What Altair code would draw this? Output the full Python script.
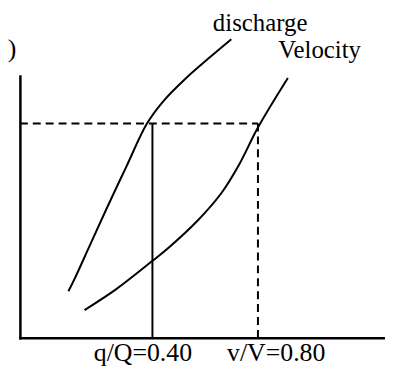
import altair as alt
import pandas as pd

# Curves (relative units: x 0..1 across the x-axis, y 0..1 up the y-axis)
discharge_x = [0.133, 0.149, 0.190, 0.236, 0.291, 0.348, 0.392, 0.454, 0.516, 0.579]
discharge_y = [0.178, 0.223, 0.348, 0.489, 0.652, 0.818, 0.902, 0.990, 1.066, 1.140]
velocity_x = [0.177, 0.264, 0.364, 0.408, 0.489, 0.552, 0.601, 0.652, 0.734]
velocity_y = [0.106, 0.186, 0.295, 0.345, 0.451, 0.553, 0.663, 0.803, 0.992]

# Reading lines
q_line_x = 0.363
v_line_x = 0.652
level_y = 0.818

# Text
bottom_labels = ["q/Q=0.40", "v/V=0.80"]
bottom_label_x = [0.337, 0.702]
curve_names = ["discharge", "Velocity"]
curve_name_x = [0.658, 0.821]
curve_name_y = [1.172, 1.068]
corner_text = [")"]
corner_x = [-0.033]
corner_y = [1.072]

FONT = "Liberation Serif"
xs = alt.Scale(domain=[0, 1], nice=False, zero=False)
ys = alt.Scale(domain=[0, 1], nice=False, zero=False)

curves = pd.DataFrame({
    "x": discharge_x + velocity_x,
    "y": discharge_y + velocity_y,
    "curve": ["discharge"] * len(discharge_x) + ["Velocity"] * len(velocity_x),
})

lines = alt.Chart(curves).mark_line(
    color="black", strokeWidth=2, interpolate="catmull-rom"
).encode(
    x=alt.X("x:Q", scale=xs, title=""),
    y=alt.Y("y:Q", scale=ys, title=""),
    detail="curve:N",
)

solid_df = pd.DataFrame({"x": [q_line_x], "y": [0.0], "y2": [level_y]})
solid = alt.Chart(solid_df).mark_rule(color="black", strokeWidth=2).encode(
    x=alt.X("x:Q", scale=xs, title=""),
    y=alt.Y("y:Q", scale=ys, title=""),
    y2="y2:Q",
)

dv_df = pd.DataFrame({"x": [v_line_x], "y": [0.0], "y2": [level_y]})
dashed_v = alt.Chart(dv_df).mark_rule(color="black", strokeWidth=2, strokeDash=[8, 5]).encode(
    x=alt.X("x:Q", scale=xs, title=""),
    y=alt.Y("y:Q", scale=ys, title=""),
    y2="y2:Q",
)

dh_df = pd.DataFrame({"x": [0.0], "x2": [v_line_x], "y": [level_y]})
dashed_h = alt.Chart(dh_df).mark_rule(color="black", strokeWidth=2, strokeDash=[8, 5]).encode(
    x=alt.X("x:Q", scale=xs, title=""),
    x2="x2:Q",
    y=alt.Y("y:Q", scale=ys, title=""),
)

bl_df = pd.DataFrame({"x": bottom_label_x, "y": [0.0, 0.0], "t": bottom_labels})
bottom_text = alt.Chart(bl_df).mark_text(
    font=FONT, fontSize=26, color="black", align="center", baseline="alphabetic", dy=23
).encode(
    x=alt.X("x:Q", scale=xs, title=""),
    y=alt.Y("y:Q", scale=ys, title=""),
    text="t:N",
)

cn_df = pd.DataFrame({"x": curve_name_x, "y": curve_name_y, "t": curve_names})
curve_text = alt.Chart(cn_df).mark_text(
    font=FONT, fontSize=25, color="black", align="center", baseline="alphabetic"
).encode(
    x=alt.X("x:Q", scale=xs, title=""),
    y=alt.Y("y:Q", scale=ys, title=""),
    text="t:N",
)

cr_df = pd.DataFrame({"x": corner_x, "y": corner_y, "t": corner_text})
corner = alt.Chart(cr_df).mark_text(
    font=FONT, fontSize=26, color="black", align="left", baseline="alphabetic"
).encode(
    x=alt.X("x:Q", scale=xs, title=""),
    y=alt.Y("y:Q", scale=ys, title=""),
    text="t:N",
)

chart = alt.layer(
    dashed_h, dashed_v, solid, lines, bottom_text, curve_text, corner
).properties(
    width=368,
    height=264,
    autosize="none",
    padding={"left": 12, "top": 67, "right": 0, "bottom": 33},
).configure(
    font=FONT,
).configure_text(
    font=FONT,
).configure_axis(
    domain=True,
    domainColor="black",
    domainWidth=2.5,
    domainCap="square",
    ticks=False,
    labels=False,
    grid=False,
).configure_view(stroke=None)

chart.save("out.html", embed_options={"renderer": "svg", "actions": False})
